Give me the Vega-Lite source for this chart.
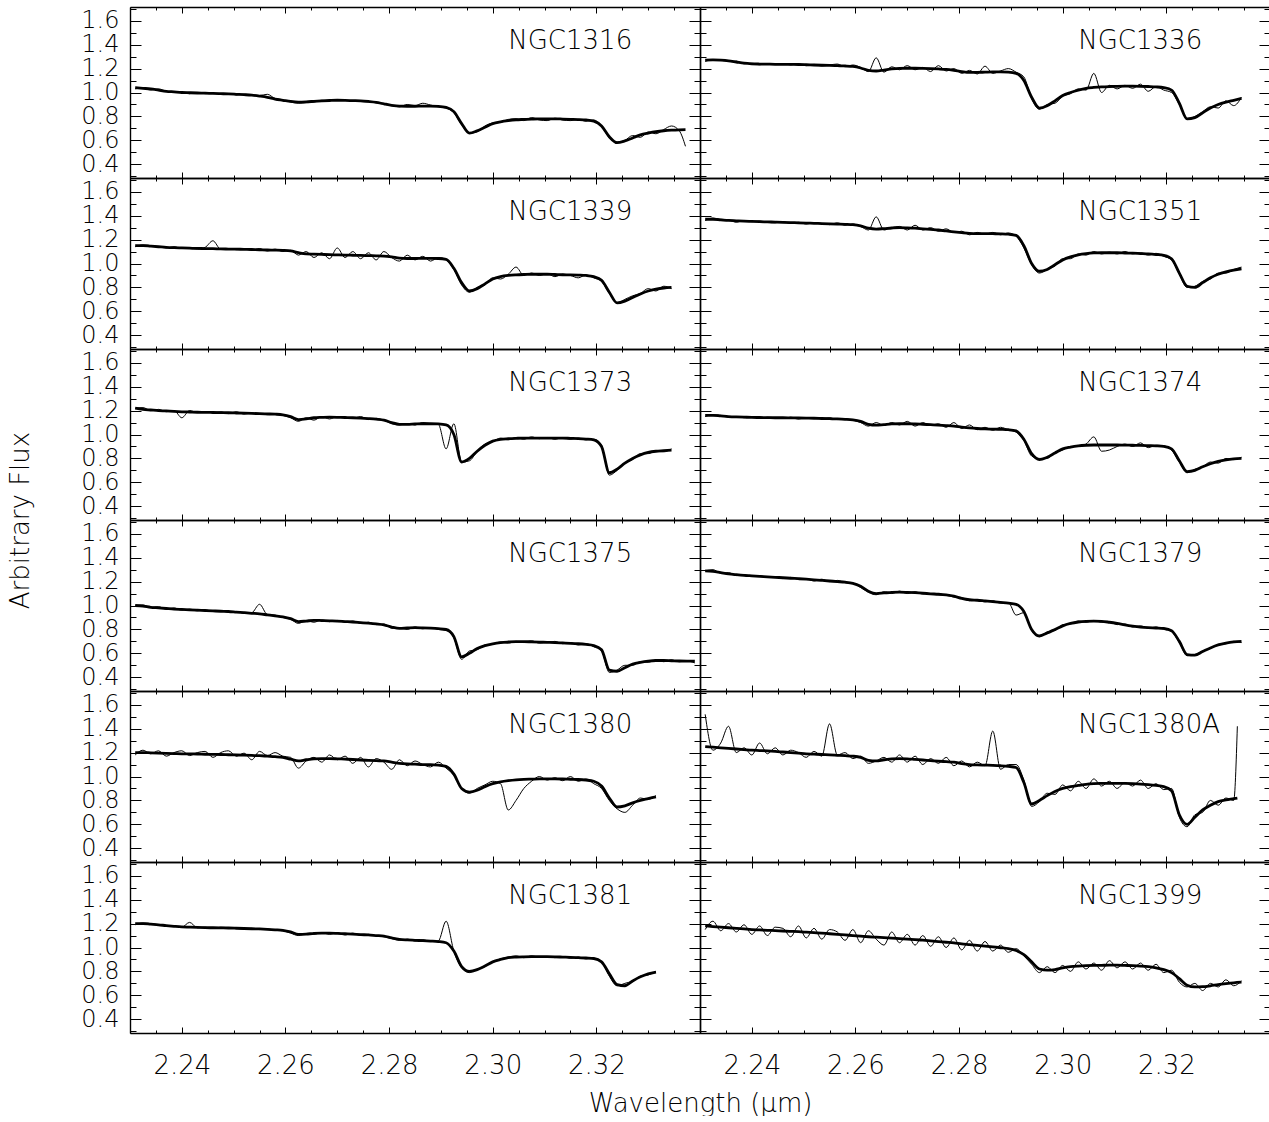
{
"$schema":"https://vega.github.io/schema/vega-lite/v6.json",
"background":"#ffffff",
"padding":{"left":7,"top":6,"right":0,"bottom":0},
"spacing":0,
"bounds":"flush",
"columns":2,
"config":{
 "view":{"stroke":null},
 "axis":{"domainColor":"#000","domainWidth":1.4,"tickColor":"#000","tickWidth":1,"grid":false,"labelFont":"DejaVu Sans","labelFontWeight":200,"labelFontSize":26,"labelColor":"#000","labelOverlap":false,"labelFlush":false,"titleFont":"DejaVu Sans","titleFontWeight":200,"titleFontSize":26,"titleColor":"#000"},
 "axisX":{"tickCount":22,"tickSize":{"condition":{"test":"abs(datum.value*50-round(datum.value*50))<0.01","value":-6},"value":-3},"labelExpr":"abs(datum.value*50-round(datum.value*50))<0.01 && datum.value<2.335 && datum.value>2.235 ? format(datum.value,'.2f') : ''","labelPadding":25},
 "axisY":{"tickCount":15,"tickSize":{"condition":{"test":"abs(datum.value*5-round(datum.value*5))<0.01","value":-11},"value":-6},"labelFontSize":{"condition":{"test":"abs(datum.value*5-round(datum.value*5))<0.01","value":24},"value":1},"labelExpr":"abs(datum.value*5-round(datum.value*5))<0.01 ? format(datum.value,'.1f') : ''","labelPadding":22}
},
"datasets":{
"n1316":[{"x":2.231,"m":1.04,"o":1.03},{"x":2.2325,"m":1.035,"o":1.04},{"x":2.234,"m":1.03,"o":1.02},{"x":2.2355,"m":1.02,"o":1.03},{"x":2.237,"m":1.01,"o":1.01},{"x":2.2385,"m":1.005,"o":1.0},{"x":2.24,"m":1.0,"o":1.0},{"x":2.2415,"m":0.998,"o":0.99},{"x":2.243,"m":0.996,"o":1.0},{"x":2.2445,"m":0.994,"o":0.99},{"x":2.246,"m":0.992,"o":0.995},{"x":2.2475,"m":0.99,"o":0.985},{"x":2.249,"m":0.988,"o":0.99},{"x":2.2505,"m":0.985,"o":0.98},{"x":2.252,"m":0.982,"o":0.985},{"x":2.2535,"m":0.978,"o":0.98},{"x":2.255,"m":0.97,"o":0.975},{"x":2.2565,"m":0.96,"o":0.985},{"x":2.258,"m":0.945,"o":0.95},{"x":2.2595,"m":0.935,"o":0.94},{"x":2.261,"m":0.925,"o":0.92},{"x":2.2625,"m":0.92,"o":0.91},{"x":2.264,"m":0.922,"o":0.915},{"x":2.2655,"m":0.926,"o":0.92},{"x":2.267,"m":0.93,"o":0.935},{"x":2.2685,"m":0.933,"o":0.93},{"x":2.27,"m":0.935,"o":0.94},{"x":2.2715,"m":0.934,"o":0.935},{"x":2.273,"m":0.932,"o":0.93},{"x":2.2745,"m":0.93,"o":0.925},{"x":2.276,"m":0.925,"o":0.92},{"x":2.2775,"m":0.918,"o":0.915},{"x":2.279,"m":0.905,"o":0.9},{"x":2.2805,"m":0.893,"o":0.89},{"x":2.282,"m":0.886,"o":0.88},{"x":2.2835,"m":0.885,"o":0.9},{"x":2.285,"m":0.885,"o":0.89},{"x":2.2865,"m":0.886,"o":0.91},{"x":2.288,"m":0.886,"o":0.895},{"x":2.2895,"m":0.884,"o":0.88},{"x":2.291,"m":0.875,"o":0.87},{"x":2.2925,"m":0.84,"o":0.83},{"x":2.294,"m":0.74,"o":0.73},{"x":2.2955,"m":0.66,"o":0.66},{"x":2.297,"m":0.68,"o":0.67},{"x":2.2985,"m":0.71,"o":0.72},{"x":2.3,"m":0.74,"o":0.745},{"x":2.3015,"m":0.755,"o":0.75},{"x":2.303,"m":0.765,"o":0.775},{"x":2.3045,"m":0.772,"o":0.78},{"x":2.306,"m":0.775,"o":0.765},{"x":2.3075,"m":0.778,"o":0.79},{"x":2.309,"m":0.78,"o":0.77},{"x":2.3105,"m":0.78,"o":0.765},{"x":2.312,"m":0.78,"o":0.785},{"x":2.3135,"m":0.778,"o":0.77},{"x":2.315,"m":0.776,"o":0.765},{"x":2.3165,"m":0.774,"o":0.775},{"x":2.318,"m":0.77,"o":0.76},{"x":2.3195,"m":0.76,"o":0.77},{"x":2.321,"m":0.72,"o":0.72},{"x":2.3225,"m":0.63,"o":0.62},{"x":2.324,"m":0.58,"o":0.585},{"x":2.3255,"m":0.595,"o":0.6},{"x":2.327,"m":0.62,"o":0.64},{"x":2.3285,"m":0.645,"o":0.625},{"x":2.33,"m":0.66,"o":0.67},{"x":2.3315,"m":0.672,"o":0.655},{"x":2.333,"m":0.68,"o":0.69},{"x":2.3345,"m":0.685,"o":0.72},{"x":2.336,"m":0.688,"o":0.68},{"x":2.3372,"m":0.689,"o":0.55}],
"n1336":[{"x":2.231,"m":1.27,"o":1.26},{"x":2.2325,"m":1.272,"o":1.275},{"x":2.234,"m":1.27,"o":1.27},{"x":2.2355,"m":1.265,"o":1.26},{"x":2.237,"m":1.255,"o":1.262},{"x":2.2385,"m":1.245,"o":1.24},{"x":2.24,"m":1.24,"o":1.245},{"x":2.2415,"m":1.238,"o":1.232},{"x":2.243,"m":1.237,"o":1.24},{"x":2.2445,"m":1.236,"o":1.235},{"x":2.246,"m":1.236,"o":1.242},{"x":2.2475,"m":1.235,"o":1.23},{"x":2.249,"m":1.234,"o":1.238},{"x":2.2505,"m":1.232,"o":1.225},{"x":2.252,"m":1.23,"o":1.235},{"x":2.2535,"m":1.228,"o":1.222},{"x":2.255,"m":1.226,"o":1.23},{"x":2.2565,"m":1.224,"o":1.238},{"x":2.258,"m":1.222,"o":1.215},{"x":2.2595,"m":1.218,"o":1.23},{"x":2.261,"m":1.205,"o":1.21},{"x":2.2625,"m":1.185,"o":1.175},{"x":2.264,"m":1.18,"o":1.29},{"x":2.2655,"m":1.188,"o":1.17},{"x":2.267,"m":1.197,"o":1.215},{"x":2.2685,"m":1.202,"o":1.19},{"x":2.27,"m":1.203,"o":1.225},{"x":2.2715,"m":1.203,"o":1.19},{"x":2.273,"m":1.202,"o":1.21},{"x":2.2745,"m":1.2,"o":1.175},{"x":2.276,"m":1.197,"o":1.225},{"x":2.2775,"m":1.193,"o":1.18},{"x":2.279,"m":1.185,"o":1.2},{"x":2.2805,"m":1.175,"o":1.16},{"x":2.282,"m":1.168,"o":1.185},{"x":2.2835,"m":1.168,"o":1.155},{"x":2.285,"m":1.17,"o":1.22},{"x":2.2865,"m":1.172,"o":1.16},{"x":2.288,"m":1.172,"o":1.18},{"x":2.2895,"m":1.17,"o":1.2},{"x":2.291,"m":1.16,"o":1.17},{"x":2.2925,"m":1.1,"o":1.13},{"x":2.294,"m":0.96,"o":0.95},{"x":2.2955,"m":0.87,"o":0.86},{"x":2.297,"m":0.89,"o":0.9},{"x":2.2985,"m":0.93,"o":0.91},{"x":2.3,"m":0.975,"o":0.97},{"x":2.3015,"m":1.0,"o":0.99},{"x":2.303,"m":1.02,"o":1.03},{"x":2.3045,"m":1.035,"o":1.02},{"x":2.306,"m":1.042,"o":1.16},{"x":2.3075,"m":1.047,"o":1.0},{"x":2.309,"m":1.05,"o":1.06},{"x":2.3105,"m":1.052,"o":1.03},{"x":2.312,"m":1.053,"o":1.06},{"x":2.3135,"m":1.053,"o":1.035},{"x":2.315,"m":1.052,"o":1.07},{"x":2.3165,"m":1.05,"o":1.01},{"x":2.318,"m":1.047,"o":1.05},{"x":2.3195,"m":1.04,"o":1.02},{"x":2.321,"m":1.02,"o":1.0},{"x":2.3225,"m":0.91,"o":0.9},{"x":2.324,"m":0.78,"o":0.78},{"x":2.3255,"m":0.79,"o":0.8},{"x":2.327,"m":0.83,"o":0.84},{"x":2.3285,"m":0.87,"o":0.88},{"x":2.33,"m":0.9,"o":0.87},{"x":2.3315,"m":0.92,"o":0.93},{"x":2.333,"m":0.935,"o":0.89},{"x":2.3345,"m":0.95,"o":0.96}],
"n1339":[{"x":2.231,"m":1.15,"o":1.14},{"x":2.2325,"m":1.15,"o":1.155},{"x":2.234,"m":1.145,"o":1.15},{"x":2.2355,"m":1.14,"o":1.14},{"x":2.237,"m":1.135,"o":1.13},{"x":2.2385,"m":1.132,"o":1.14},{"x":2.24,"m":1.13,"o":1.125},{"x":2.2415,"m":1.128,"o":1.13},{"x":2.243,"m":1.126,"o":1.12},{"x":2.2445,"m":1.125,"o":1.135},{"x":2.246,"m":1.124,"o":1.19},{"x":2.2475,"m":1.122,"o":1.12},{"x":2.249,"m":1.121,"o":1.125},{"x":2.2505,"m":1.12,"o":1.115},{"x":2.252,"m":1.118,"o":1.12},{"x":2.2535,"m":1.117,"o":1.11},{"x":2.255,"m":1.115,"o":1.125},{"x":2.2565,"m":1.113,"o":1.105},{"x":2.258,"m":1.112,"o":1.12},{"x":2.2595,"m":1.11,"o":1.1},{"x":2.261,"m":1.105,"o":1.11},{"x":2.2625,"m":1.09,"o":1.07},{"x":2.264,"m":1.08,"o":1.1},{"x":2.2655,"m":1.078,"o":1.05},{"x":2.267,"m":1.076,"o":1.09},{"x":2.2685,"m":1.074,"o":1.04},{"x":2.27,"m":1.072,"o":1.13},{"x":2.2715,"m":1.07,"o":1.05},{"x":2.273,"m":1.069,"o":1.1},{"x":2.2745,"m":1.068,"o":1.04},{"x":2.276,"m":1.066,"o":1.09},{"x":2.2775,"m":1.064,"o":1.03},{"x":2.279,"m":1.062,"o":1.1},{"x":2.2805,"m":1.055,"o":1.05},{"x":2.282,"m":1.045,"o":1.02},{"x":2.2835,"m":1.042,"o":1.07},{"x":2.285,"m":1.042,"o":1.03},{"x":2.2865,"m":1.043,"o":1.06},{"x":2.288,"m":1.043,"o":1.02},{"x":2.2895,"m":1.042,"o":1.05},{"x":2.291,"m":1.035,"o":1.03},{"x":2.2925,"m":0.96,"o":0.95},{"x":2.294,"m":0.84,"o":0.82},{"x":2.2955,"m":0.77,"o":0.76},{"x":2.297,"m":0.79,"o":0.8},{"x":2.2985,"m":0.83,"o":0.82},{"x":2.3,"m":0.87,"o":0.88},{"x":2.3015,"m":0.89,"o":0.87},{"x":2.303,"m":0.9,"o":0.91},{"x":2.3045,"m":0.905,"o":0.97},{"x":2.306,"m":0.908,"o":0.9},{"x":2.3075,"m":0.91,"o":0.92},{"x":2.309,"m":0.91,"o":0.9},{"x":2.3105,"m":0.91,"o":0.915},{"x":2.312,"m":0.908,"o":0.89},{"x":2.3135,"m":0.906,"o":0.91},{"x":2.315,"m":0.905,"o":0.9},{"x":2.3165,"m":0.903,"o":0.88},{"x":2.318,"m":0.9,"o":0.905},{"x":2.3195,"m":0.89,"o":0.88},{"x":2.321,"m":0.86,"o":0.85},{"x":2.3225,"m":0.76,"o":0.75},{"x":2.324,"m":0.67,"o":0.67},{"x":2.3255,"m":0.685,"o":0.7},{"x":2.327,"m":0.715,"o":0.73},{"x":2.3285,"m":0.745,"o":0.75},{"x":2.33,"m":0.77,"o":0.79},{"x":2.3315,"m":0.785,"o":0.77},{"x":2.333,"m":0.795,"o":0.81},{"x":2.3345,"m":0.8,"o":0.79}],
"n1351":[{"x":2.231,"m":1.37,"o":1.36},{"x":2.2325,"m":1.37,"o":1.38},{"x":2.234,"m":1.365,"o":1.37},{"x":2.2355,"m":1.36,"o":1.365},{"x":2.237,"m":1.357,"o":1.345},{"x":2.2385,"m":1.354,"o":1.36},{"x":2.24,"m":1.352,"o":1.35},{"x":2.2415,"m":1.35,"o":1.355},{"x":2.243,"m":1.348,"o":1.345},{"x":2.2445,"m":1.346,"o":1.34},{"x":2.246,"m":1.344,"o":1.35},{"x":2.2475,"m":1.342,"o":1.335},{"x":2.249,"m":1.34,"o":1.345},{"x":2.2505,"m":1.338,"o":1.33},{"x":2.252,"m":1.336,"o":1.34},{"x":2.2535,"m":1.334,"o":1.335},{"x":2.255,"m":1.332,"o":1.325},{"x":2.2565,"m":1.33,"o":1.34},{"x":2.258,"m":1.328,"o":1.32},{"x":2.2595,"m":1.325,"o":1.33},{"x":2.261,"m":1.315,"o":1.31},{"x":2.2625,"m":1.295,"o":1.28},{"x":2.264,"m":1.288,"o":1.39},{"x":2.2655,"m":1.292,"o":1.28},{"x":2.267,"m":1.297,"o":1.3},{"x":2.2685,"m":1.3,"o":1.31},{"x":2.27,"m":1.298,"o":1.28},{"x":2.2715,"m":1.295,"o":1.32},{"x":2.273,"m":1.29,"o":1.28},{"x":2.2745,"m":1.285,"o":1.3},{"x":2.276,"m":1.28,"o":1.27},{"x":2.2775,"m":1.272,"o":1.29},{"x":2.279,"m":1.265,"o":1.26},{"x":2.2805,"m":1.258,"o":1.27},{"x":2.282,"m":1.252,"o":1.24},{"x":2.2835,"m":1.25,"o":1.26},{"x":2.285,"m":1.25,"o":1.245},{"x":2.2865,"m":1.249,"o":1.26},{"x":2.288,"m":1.248,"o":1.24},{"x":2.2895,"m":1.245,"o":1.255},{"x":2.291,"m":1.235,"o":1.23},{"x":2.2925,"m":1.15,"o":1.13},{"x":2.294,"m":1.0,"o":0.99},{"x":2.2955,"m":0.935,"o":0.92},{"x":2.297,"m":0.95,"o":0.95},{"x":2.2985,"m":0.99,"o":0.98},{"x":2.3,"m":1.03,"o":1.04},{"x":2.3015,"m":1.055,"o":1.04},{"x":2.303,"m":1.072,"o":1.08},{"x":2.3045,"m":1.082,"o":1.07},{"x":2.306,"m":1.088,"o":1.1},{"x":2.3075,"m":1.09,"o":1.08},{"x":2.309,"m":1.09,"o":1.095},{"x":2.3105,"m":1.09,"o":1.08},{"x":2.312,"m":1.088,"o":1.1},{"x":2.3135,"m":1.086,"o":1.08},{"x":2.315,"m":1.083,"o":1.09},{"x":2.3165,"m":1.08,"o":1.07},{"x":2.318,"m":1.075,"o":1.085},{"x":2.3195,"m":1.068,"o":1.06},{"x":2.321,"m":1.04,"o":1.03},{"x":2.3225,"m":0.92,"o":0.91},{"x":2.324,"m":0.81,"o":0.8},{"x":2.3255,"m":0.8,"o":0.81},{"x":2.327,"m":0.84,"o":0.85},{"x":2.3285,"m":0.88,"o":0.87},{"x":2.33,"m":0.91,"o":0.92},{"x":2.3315,"m":0.93,"o":0.92},{"x":2.333,"m":0.945,"o":0.95},{"x":2.3345,"m":0.955,"o":0.97}],
"n1373":[{"x":2.231,"m":1.22,"o":1.22},{"x":2.2325,"m":1.21,"o":1.225},{"x":2.234,"m":1.205,"o":1.2},{"x":2.2355,"m":1.2,"o":1.21},{"x":2.237,"m":1.197,"o":1.19},{"x":2.2385,"m":1.193,"o":1.2},{"x":2.24,"m":1.19,"o":1.14},{"x":2.2415,"m":1.188,"o":1.2},{"x":2.243,"m":1.186,"o":1.185},{"x":2.2445,"m":1.185,"o":1.19},{"x":2.246,"m":1.184,"o":1.18},{"x":2.2475,"m":1.183,"o":1.19},{"x":2.249,"m":1.182,"o":1.175},{"x":2.2505,"m":1.18,"o":1.19},{"x":2.252,"m":1.178,"o":1.17},{"x":2.2535,"m":1.176,"o":1.18},{"x":2.255,"m":1.174,"o":1.175},{"x":2.2565,"m":1.172,"o":1.165},{"x":2.258,"m":1.17,"o":1.17},{"x":2.2595,"m":1.165,"o":1.16},{"x":2.261,"m":1.15,"o":1.14},{"x":2.2625,"m":1.125,"o":1.11},{"x":2.264,"m":1.13,"o":1.14},{"x":2.2655,"m":1.14,"o":1.12},{"x":2.267,"m":1.143,"o":1.15},{"x":2.2685,"m":1.145,"o":1.13},{"x":2.27,"m":1.144,"o":1.15},{"x":2.2715,"m":1.142,"o":1.14},{"x":2.273,"m":1.14,"o":1.135},{"x":2.2745,"m":1.137,"o":1.15},{"x":2.276,"m":1.133,"o":1.125},{"x":2.2775,"m":1.128,"o":1.135},{"x":2.279,"m":1.12,"o":1.12},{"x":2.2805,"m":1.1,"o":1.09},{"x":2.282,"m":1.085,"o":1.08},{"x":2.2835,"m":1.085,"o":1.09},{"x":2.285,"m":1.088,"o":1.08},{"x":2.2865,"m":1.09,"o":1.1},{"x":2.288,"m":1.09,"o":1.09},{"x":2.2895,"m":1.088,"o":1.085},{"x":2.291,"m":1.08,"o":0.88},{"x":2.2925,"m":1.0,"o":1.09},{"x":2.294,"m":0.77,"o":0.77},{"x":2.2955,"m":0.8,"o":0.78},{"x":2.297,"m":0.86,"o":0.86},{"x":2.2985,"m":0.91,"o":0.92},{"x":2.3,"m":0.945,"o":0.94},{"x":2.3015,"m":0.96,"o":0.97},{"x":2.303,"m":0.965,"o":0.955},{"x":2.3045,"m":0.968,"o":0.975},{"x":2.306,"m":0.97,"o":0.96},{"x":2.3075,"m":0.97,"o":0.98},{"x":2.309,"m":0.97,"o":0.965},{"x":2.3105,"m":0.97,"o":0.975},{"x":2.312,"m":0.97,"o":0.96},{"x":2.3135,"m":0.97,"o":0.975},{"x":2.315,"m":0.968,"o":0.96},{"x":2.3165,"m":0.966,"o":0.97},{"x":2.318,"m":0.962,"o":0.955},{"x":2.3195,"m":0.955,"o":0.96},{"x":2.321,"m":0.9,"o":0.91},{"x":2.3225,"m":0.68,"o":0.66},{"x":2.324,"m":0.71,"o":0.7},{"x":2.3255,"m":0.76,"o":0.76},{"x":2.327,"m":0.8,"o":0.79},{"x":2.3285,"m":0.83,"o":0.84},{"x":2.33,"m":0.85,"o":0.84},{"x":2.3315,"m":0.86,"o":0.86},{"x":2.333,"m":0.865,"o":0.855},{"x":2.3345,"m":0.87,"o":0.88}],
"n1374":[{"x":2.231,"m":1.16,"o":1.15},{"x":2.2325,"m":1.16,"o":1.165},{"x":2.234,"m":1.155,"o":1.16},{"x":2.2355,"m":1.15,"o":1.145},{"x":2.237,"m":1.147,"o":1.15},{"x":2.2385,"m":1.145,"o":1.14},{"x":2.24,"m":1.143,"o":1.15},{"x":2.2415,"m":1.142,"o":1.135},{"x":2.243,"m":1.141,"o":1.145},{"x":2.2445,"m":1.14,"o":1.14},{"x":2.246,"m":1.14,"o":1.135},{"x":2.2475,"m":1.139,"o":1.145},{"x":2.249,"m":1.138,"o":1.13},{"x":2.2505,"m":1.137,"o":1.14},{"x":2.252,"m":1.136,"o":1.135},{"x":2.2535,"m":1.134,"o":1.13},{"x":2.255,"m":1.132,"o":1.14},{"x":2.2565,"m":1.13,"o":1.125},{"x":2.258,"m":1.127,"o":1.13},{"x":2.2595,"m":1.122,"o":1.12},{"x":2.261,"m":1.11,"o":1.1},{"x":2.2625,"m":1.085,"o":1.07},{"x":2.264,"m":1.078,"o":1.1},{"x":2.2655,"m":1.083,"o":1.075},{"x":2.267,"m":1.088,"o":1.1},{"x":2.2685,"m":1.09,"o":1.08},{"x":2.27,"m":1.09,"o":1.11},{"x":2.2715,"m":1.088,"o":1.07},{"x":2.273,"m":1.085,"o":1.1},{"x":2.2745,"m":1.082,"o":1.075},{"x":2.276,"m":1.079,"o":1.09},{"x":2.2775,"m":1.075,"o":1.06},{"x":2.279,"m":1.07,"o":1.1},{"x":2.2805,"m":1.062,"o":1.05},{"x":2.282,"m":1.055,"o":1.08},{"x":2.2835,"m":1.05,"o":1.04},{"x":2.285,"m":1.047,"o":1.06},{"x":2.2865,"m":1.045,"o":1.035},{"x":2.288,"m":1.043,"o":1.06},{"x":2.2895,"m":1.04,"o":1.04},{"x":2.291,"m":1.03,"o":1.02},{"x":2.2925,"m":0.96,"o":0.95},{"x":2.294,"m":0.84,"o":0.82},{"x":2.2955,"m":0.79,"o":0.8},{"x":2.297,"m":0.81,"o":0.8},{"x":2.2985,"m":0.845,"o":0.85},{"x":2.3,"m":0.88,"o":0.87},{"x":2.3015,"m":0.895,"o":0.9},{"x":2.303,"m":0.905,"o":0.9},{"x":2.3045,"m":0.91,"o":0.92},{"x":2.306,"m":0.912,"o":0.98},{"x":2.3075,"m":0.912,"o":0.86},{"x":2.309,"m":0.912,"o":0.87},{"x":2.3105,"m":0.912,"o":0.9},{"x":2.312,"m":0.911,"o":0.92},{"x":2.3135,"m":0.91,"o":0.9},{"x":2.315,"m":0.909,"o":0.93},{"x":2.3165,"m":0.907,"o":0.89},{"x":2.318,"m":0.905,"o":0.91},{"x":2.3195,"m":0.9,"o":0.905},{"x":2.321,"m":0.88,"o":0.87},{"x":2.3225,"m":0.78,"o":0.77},{"x":2.324,"m":0.69,"o":0.68},{"x":2.3255,"m":0.7,"o":0.71},{"x":2.327,"m":0.73,"o":0.73},{"x":2.3285,"m":0.755,"o":0.77},{"x":2.33,"m":0.775,"o":0.76},{"x":2.3315,"m":0.788,"o":0.8},{"x":2.333,"m":0.796,"o":0.79},{"x":2.3345,"m":0.8,"o":0.81}],
"n1375":[{"x":2.231,"m":1.0,"o":0.995},{"x":2.2325,"m":0.995,"o":1.005},{"x":2.234,"m":0.985,"o":0.985},{"x":2.2355,"m":0.98,"o":0.99},{"x":2.237,"m":0.975,"o":0.97},{"x":2.2385,"m":0.97,"o":0.98},{"x":2.24,"m":0.967,"o":0.96},{"x":2.2415,"m":0.964,"o":0.97},{"x":2.243,"m":0.961,"o":0.955},{"x":2.2445,"m":0.958,"o":0.965},{"x":2.246,"m":0.955,"o":0.95},{"x":2.2475,"m":0.952,"o":0.955},{"x":2.249,"m":0.95,"o":0.945},{"x":2.2505,"m":0.945,"o":0.95},{"x":2.252,"m":0.94,"o":0.935},{"x":2.2535,"m":0.935,"o":0.94},{"x":2.255,"m":0.93,"o":1.01},{"x":2.2565,"m":0.922,"o":0.925},{"x":2.258,"m":0.914,"o":0.92},{"x":2.2595,"m":0.905,"o":0.9},{"x":2.261,"m":0.89,"o":0.885},{"x":2.2625,"m":0.865,"o":0.85},{"x":2.264,"m":0.87,"o":0.875},{"x":2.2655,"m":0.876,"o":0.86},{"x":2.267,"m":0.874,"o":0.88},{"x":2.2685,"m":0.872,"o":0.865},{"x":2.27,"m":0.87,"o":0.875},{"x":2.2715,"m":0.866,"o":0.86},{"x":2.273,"m":0.862,"o":0.87},{"x":2.2745,"m":0.857,"o":0.85},{"x":2.276,"m":0.852,"o":0.86},{"x":2.2775,"m":0.846,"o":0.84},{"x":2.279,"m":0.838,"o":0.845},{"x":2.2805,"m":0.82,"o":0.81},{"x":2.282,"m":0.808,"o":0.81},{"x":2.2835,"m":0.812,"o":0.8},{"x":2.285,"m":0.815,"o":0.82},{"x":2.2865,"m":0.813,"o":0.805},{"x":2.288,"m":0.81,"o":0.815},{"x":2.2895,"m":0.806,"o":0.8},{"x":2.291,"m":0.8,"o":0.79},{"x":2.2925,"m":0.74,"o":0.73},{"x":2.294,"m":0.57,"o":0.55},{"x":2.2955,"m":0.6,"o":0.62},{"x":2.297,"m":0.64,"o":0.63},{"x":2.2985,"m":0.665,"o":0.67},{"x":2.3,"m":0.68,"o":0.675},{"x":2.3015,"m":0.69,"o":0.695},{"x":2.303,"m":0.695,"o":0.685},{"x":2.3045,"m":0.698,"o":0.7},{"x":2.306,"m":0.698,"o":0.69},{"x":2.3075,"m":0.696,"o":0.705},{"x":2.309,"m":0.694,"o":0.685},{"x":2.3105,"m":0.692,"o":0.69},{"x":2.312,"m":0.69,"o":0.7},{"x":2.3135,"m":0.687,"o":0.68},{"x":2.315,"m":0.684,"o":0.69},{"x":2.3165,"m":0.68,"o":0.67},{"x":2.318,"m":0.674,"o":0.68},{"x":2.3195,"m":0.665,"o":0.655},{"x":2.321,"m":0.63,"o":0.62},{"x":2.3225,"m":0.46,"o":0.44},{"x":2.324,"m":0.45,"o":0.46},{"x":2.3255,"m":0.48,"o":0.5},{"x":2.327,"m":0.51,"o":0.5},{"x":2.3285,"m":0.525,"o":0.53},{"x":2.33,"m":0.535,"o":0.525},{"x":2.3315,"m":0.54,"o":0.545},{"x":2.333,"m":0.54,"o":0.53},{"x":2.3345,"m":0.538,"o":0.545},{"x":2.336,"m":0.536,"o":0.53},{"x":2.3375,"m":0.535,"o":0.535},{"x":2.339,"m":0.534,"o":0.52}],
"n1379":[{"x":2.231,"m":1.29,"o":1.29},{"x":2.2325,"m":1.285,"o":1.3},{"x":2.234,"m":1.275,"o":1.27},{"x":2.2355,"m":1.265,"o":1.275},{"x":2.237,"m":1.258,"o":1.25},{"x":2.2385,"m":1.252,"o":1.26},{"x":2.24,"m":1.248,"o":1.245},{"x":2.2415,"m":1.244,"o":1.25},{"x":2.243,"m":1.24,"o":1.235},{"x":2.2445,"m":1.236,"o":1.24},{"x":2.246,"m":1.232,"o":1.225},{"x":2.2475,"m":1.228,"o":1.235},{"x":2.249,"m":1.224,"o":1.22},{"x":2.2505,"m":1.22,"o":1.225},{"x":2.252,"m":1.215,"o":1.205},{"x":2.2535,"m":1.21,"o":1.22},{"x":2.255,"m":1.205,"o":1.2},{"x":2.2565,"m":1.2,"o":1.21},{"x":2.258,"m":1.195,"o":1.19},{"x":2.2595,"m":1.185,"o":1.185},{"x":2.261,"m":1.16,"o":1.15},{"x":2.2625,"m":1.12,"o":1.11},{"x":2.264,"m":1.1,"o":1.09},{"x":2.2655,"m":1.105,"o":1.115},{"x":2.267,"m":1.11,"o":1.1},{"x":2.2685,"m":1.112,"o":1.12},{"x":2.27,"m":1.11,"o":1.1},{"x":2.2715,"m":1.107,"o":1.115},{"x":2.273,"m":1.103,"o":1.095},{"x":2.2745,"m":1.098,"o":1.1},{"x":2.276,"m":1.094,"o":1.09},{"x":2.2775,"m":1.088,"o":1.085},{"x":2.279,"m":1.078,"o":1.07},{"x":2.2805,"m":1.06,"o":1.065},{"x":2.282,"m":1.048,"o":1.04},{"x":2.2835,"m":1.044,"o":1.05},{"x":2.285,"m":1.038,"o":1.03},{"x":2.2865,"m":1.032,"o":1.04},{"x":2.288,"m":1.026,"o":1.02},{"x":2.2895,"m":1.02,"o":1.025},{"x":2.291,"m":1.01,"o":0.92},{"x":2.2925,"m":0.95,"o":0.94},{"x":2.294,"m":0.8,"o":0.79},{"x":2.2955,"m":0.745,"o":0.74},{"x":2.297,"m":0.77,"o":0.78},{"x":2.2985,"m":0.8,"o":0.79},{"x":2.3,"m":0.83,"o":0.84},{"x":2.3015,"m":0.85,"o":0.845},{"x":2.303,"m":0.862,"o":0.87},{"x":2.3045,"m":0.868,"o":0.86},{"x":2.306,"m":0.87,"o":0.875},{"x":2.3075,"m":0.868,"o":0.86},{"x":2.309,"m":0.86,"o":0.865},{"x":2.3105,"m":0.85,"o":0.84},{"x":2.312,"m":0.838,"o":0.845},{"x":2.3135,"m":0.828,"o":0.82},{"x":2.315,"m":0.82,"o":0.83},{"x":2.3165,"m":0.815,"o":0.81},{"x":2.318,"m":0.812,"o":0.82},{"x":2.3195,"m":0.808,"o":0.8},{"x":2.321,"m":0.79,"o":0.78},{"x":2.3225,"m":0.7,"o":0.69},{"x":2.324,"m":0.59,"o":0.58},{"x":2.3255,"m":0.585,"o":0.59},{"x":2.327,"m":0.615,"o":0.62},{"x":2.3285,"m":0.645,"o":0.64},{"x":2.33,"m":0.67,"o":0.675},{"x":2.3315,"m":0.685,"o":0.68},{"x":2.333,"m":0.695,"o":0.7},{"x":2.3345,"m":0.7,"o":0.69}],
"n1380":[{"x":2.231,"m":1.2,"o":1.18},{"x":2.2325,"m":1.2,"o":1.22},{"x":2.234,"m":1.198,"o":1.19},{"x":2.2355,"m":1.196,"o":1.215},{"x":2.237,"m":1.194,"o":1.17},{"x":2.2385,"m":1.192,"o":1.2},{"x":2.24,"m":1.19,"o":1.215},{"x":2.2415,"m":1.189,"o":1.175},{"x":2.243,"m":1.188,"o":1.2},{"x":2.2445,"m":1.186,"o":1.21},{"x":2.246,"m":1.185,"o":1.16},{"x":2.2475,"m":1.184,"o":1.2},{"x":2.249,"m":1.182,"o":1.215},{"x":2.2505,"m":1.18,"o":1.17},{"x":2.252,"m":1.178,"o":1.195},{"x":2.2535,"m":1.176,"o":1.14},{"x":2.255,"m":1.174,"o":1.21},{"x":2.2565,"m":1.17,"o":1.175},{"x":2.258,"m":1.166,"o":1.2},{"x":2.2595,"m":1.16,"o":1.17},{"x":2.261,"m":1.145,"o":1.16},{"x":2.2625,"m":1.13,"o":1.07},{"x":2.264,"m":1.14,"o":1.13},{"x":2.2655,"m":1.148,"o":1.16},{"x":2.267,"m":1.15,"o":1.12},{"x":2.2685,"m":1.15,"o":1.18},{"x":2.27,"m":1.148,"o":1.14},{"x":2.2715,"m":1.145,"o":1.17},{"x":2.273,"m":1.142,"o":1.11},{"x":2.2745,"m":1.138,"o":1.16},{"x":2.276,"m":1.135,"o":1.08},{"x":2.2775,"m":1.132,"o":1.15},{"x":2.279,"m":1.13,"o":1.12},{"x":2.2805,"m":1.12,"o":1.06},{"x":2.282,"m":1.11,"o":1.14},{"x":2.2835,"m":1.105,"o":1.09},{"x":2.285,"m":1.103,"o":1.13},{"x":2.2865,"m":1.1,"o":1.1},{"x":2.288,"m":1.1,"o":1.08},{"x":2.2895,"m":1.095,"o":1.12},{"x":2.291,"m":1.085,"o":1.07},{"x":2.2925,"m":1.02,"o":1.01},{"x":2.294,"m":0.9,"o":0.9},{"x":2.2955,"m":0.87,"o":0.86},{"x":2.297,"m":0.885,"o":0.9},{"x":2.2985,"m":0.915,"o":0.93},{"x":2.3,"m":0.94,"o":0.96},{"x":2.3015,"m":0.955,"o":0.94},{"x":2.303,"m":0.965,"o":0.72},{"x":2.3045,"m":0.972,"o":0.8},{"x":2.306,"m":0.976,"o":0.9},{"x":2.3075,"m":0.978,"o":0.96},{"x":2.309,"m":0.98,"o":1.0},{"x":2.3105,"m":0.98,"o":0.97},{"x":2.312,"m":0.98,"o":0.99},{"x":2.3135,"m":0.979,"o":0.965},{"x":2.315,"m":0.977,"o":1.0},{"x":2.3165,"m":0.975,"o":0.96},{"x":2.318,"m":0.97,"o":0.98},{"x":2.3195,"m":0.96,"o":0.94},{"x":2.321,"m":0.92,"o":0.9},{"x":2.3225,"m":0.82,"o":0.8},{"x":2.324,"m":0.745,"o":0.73},{"x":2.3255,"m":0.755,"o":0.7},{"x":2.327,"m":0.78,"o":0.76},{"x":2.3285,"m":0.8,"o":0.82},{"x":2.33,"m":0.815,"o":0.81},{"x":2.3315,"m":0.83,"o":0.84}],
"n1380a":[{"x":2.231,"m":1.25,"o":1.52},{"x":2.2325,"m":1.245,"o":1.22},{"x":2.234,"m":1.24,"o":1.28},{"x":2.2355,"m":1.235,"o":1.42},{"x":2.237,"m":1.23,"o":1.2},{"x":2.2385,"m":1.225,"o":1.24},{"x":2.24,"m":1.22,"o":1.18},{"x":2.2415,"m":1.217,"o":1.28},{"x":2.243,"m":1.214,"o":1.19},{"x":2.2445,"m":1.21,"o":1.24},{"x":2.246,"m":1.205,"o":1.18},{"x":2.2475,"m":1.2,"o":1.22},{"x":2.249,"m":1.195,"o":1.2},{"x":2.2505,"m":1.19,"o":1.16},{"x":2.252,"m":1.187,"o":1.21},{"x":2.2535,"m":1.184,"o":1.17},{"x":2.255,"m":1.18,"o":1.44},{"x":2.2565,"m":1.177,"o":1.18},{"x":2.258,"m":1.174,"o":1.2},{"x":2.2595,"m":1.17,"o":1.15},{"x":2.261,"m":1.16,"o":1.17},{"x":2.2625,"m":1.135,"o":1.11},{"x":2.264,"m":1.13,"o":1.13},{"x":2.2655,"m":1.14,"o":1.16},{"x":2.267,"m":1.148,"o":1.12},{"x":2.2685,"m":1.15,"o":1.18},{"x":2.27,"m":1.148,"o":1.12},{"x":2.2715,"m":1.143,"o":1.17},{"x":2.273,"m":1.138,"o":1.1},{"x":2.2745,"m":1.133,"o":1.15},{"x":2.276,"m":1.128,"o":1.11},{"x":2.2775,"m":1.124,"o":1.16},{"x":2.279,"m":1.12,"o":1.09},{"x":2.2805,"m":1.108,"o":1.13},{"x":2.282,"m":1.1,"o":1.08},{"x":2.2835,"m":1.097,"o":1.12},{"x":2.285,"m":1.095,"o":1.09},{"x":2.2865,"m":1.093,"o":1.38},{"x":2.288,"m":1.09,"o":1.06},{"x":2.2895,"m":1.085,"o":1.1},{"x":2.291,"m":1.075,"o":1.1},{"x":2.2925,"m":0.95,"o":0.97},{"x":2.294,"m":0.77,"o":0.75},{"x":2.2955,"m":0.8,"o":0.79},{"x":2.297,"m":0.84,"o":0.86},{"x":2.2985,"m":0.875,"o":0.85},{"x":2.3,"m":0.9,"o":0.93},{"x":2.3015,"m":0.915,"o":0.88},{"x":2.303,"m":0.925,"o":0.96},{"x":2.3045,"m":0.935,"o":0.9},{"x":2.306,"m":0.94,"o":0.98},{"x":2.3075,"m":0.942,"o":0.92},{"x":2.309,"m":0.943,"o":0.96},{"x":2.3105,"m":0.943,"o":0.9},{"x":2.312,"m":0.942,"o":0.95},{"x":2.3135,"m":0.94,"o":0.92},{"x":2.315,"m":0.937,"o":0.97},{"x":2.3165,"m":0.932,"o":0.9},{"x":2.318,"m":0.925,"o":0.94},{"x":2.3195,"m":0.915,"o":0.89},{"x":2.321,"m":0.88,"o":0.9},{"x":2.3225,"m":0.68,"o":0.66},{"x":2.324,"m":0.6,"o":0.58},{"x":2.3255,"m":0.66,"o":0.68},{"x":2.327,"m":0.72,"o":0.7},{"x":2.3285,"m":0.76,"o":0.8},{"x":2.33,"m":0.79,"o":0.76},{"x":2.3315,"m":0.805,"o":0.82},{"x":2.333,"m":0.815,"o":0.8},{"x":2.3337,"m":0.82,"o":1.42}],
"n1381":[{"x":2.231,"m":1.2,"o":1.19},{"x":2.2325,"m":1.2,"o":1.205},{"x":2.234,"m":1.195,"o":1.2},{"x":2.2355,"m":1.19,"o":1.19},{"x":2.237,"m":1.183,"o":1.18},{"x":2.2385,"m":1.177,"o":1.18},{"x":2.24,"m":1.172,"o":1.17},{"x":2.2415,"m":1.17,"o":1.21},{"x":2.243,"m":1.168,"o":1.165},{"x":2.2445,"m":1.166,"o":1.17},{"x":2.246,"m":1.165,"o":1.16},{"x":2.2475,"m":1.164,"o":1.17},{"x":2.249,"m":1.163,"o":1.165},{"x":2.2505,"m":1.161,"o":1.16},{"x":2.252,"m":1.159,"o":1.155},{"x":2.2535,"m":1.157,"o":1.16},{"x":2.255,"m":1.155,"o":1.15},{"x":2.2565,"m":1.152,"o":1.155},{"x":2.258,"m":1.148,"o":1.145},{"x":2.2595,"m":1.143,"o":1.14},{"x":2.261,"m":1.13,"o":1.12},{"x":2.2625,"m":1.11,"o":1.1},{"x":2.264,"m":1.112,"o":1.115},{"x":2.2655,"m":1.118,"o":1.11},{"x":2.267,"m":1.12,"o":1.125},{"x":2.2685,"m":1.12,"o":1.11},{"x":2.27,"m":1.118,"o":1.125},{"x":2.2715,"m":1.115,"o":1.105},{"x":2.273,"m":1.112,"o":1.12},{"x":2.2745,"m":1.108,"o":1.1},{"x":2.276,"m":1.105,"o":1.11},{"x":2.2775,"m":1.1,"o":1.1},{"x":2.279,"m":1.095,"o":1.09},{"x":2.2805,"m":1.08,"o":1.075},{"x":2.282,"m":1.068,"o":1.06},{"x":2.2835,"m":1.063,"o":1.07},{"x":2.285,"m":1.06,"o":1.055},{"x":2.2865,"m":1.057,"o":1.065},{"x":2.288,"m":1.054,"o":1.05},{"x":2.2895,"m":1.05,"o":1.055},{"x":2.291,"m":1.04,"o":1.22},{"x":2.2925,"m":0.97,"o":0.97},{"x":2.294,"m":0.84,"o":0.83},{"x":2.2955,"m":0.8,"o":0.79},{"x":2.297,"m":0.815,"o":0.82},{"x":2.2985,"m":0.845,"o":0.84},{"x":2.3,"m":0.88,"o":0.88},{"x":2.3015,"m":0.9,"o":0.905},{"x":2.303,"m":0.915,"o":0.92},{"x":2.3045,"m":0.92,"o":0.93},{"x":2.306,"m":0.922,"o":0.915},{"x":2.3075,"m":0.923,"o":0.93},{"x":2.309,"m":0.923,"o":0.92},{"x":2.3105,"m":0.923,"o":0.925},{"x":2.312,"m":0.922,"o":0.915},{"x":2.3135,"m":0.92,"o":0.925},{"x":2.315,"m":0.918,"o":0.91},{"x":2.3165,"m":0.915,"o":0.92},{"x":2.318,"m":0.912,"o":0.905},{"x":2.3195,"m":0.908,"o":0.91},{"x":2.321,"m":0.88,"o":0.88},{"x":2.3225,"m":0.78,"o":0.76},{"x":2.324,"m":0.69,"o":0.68},{"x":2.3255,"m":0.68,"o":0.7},{"x":2.327,"m":0.72,"o":0.72},{"x":2.3285,"m":0.755,"o":0.76},{"x":2.33,"m":0.78,"o":0.77},{"x":2.3315,"m":0.795,"o":0.8}],
"n1399":[{"x":2.231,"m":1.18,"o":1.15},{"x":2.2325,"m":1.175,"o":1.22},{"x":2.234,"m":1.17,"o":1.14},{"x":2.2355,"m":1.165,"o":1.2},{"x":2.237,"m":1.16,"o":1.13},{"x":2.2385,"m":1.155,"o":1.19},{"x":2.24,"m":1.15,"o":1.11},{"x":2.2415,"m":1.147,"o":1.18},{"x":2.243,"m":1.144,"o":1.1},{"x":2.2445,"m":1.141,"o":1.17},{"x":2.246,"m":1.138,"o":1.16},{"x":2.2475,"m":1.135,"o":1.09},{"x":2.249,"m":1.132,"o":1.18},{"x":2.2505,"m":1.128,"o":1.08},{"x":2.252,"m":1.124,"o":1.16},{"x":2.2535,"m":1.12,"o":1.07},{"x":2.255,"m":1.115,"o":1.15},{"x":2.2565,"m":1.11,"o":1.13},{"x":2.258,"m":1.105,"o":1.06},{"x":2.2595,"m":1.1,"o":1.15},{"x":2.261,"m":1.095,"o":1.04},{"x":2.2625,"m":1.09,"o":1.14},{"x":2.264,"m":1.086,"o":1.07},{"x":2.2655,"m":1.082,"o":1.02},{"x":2.267,"m":1.078,"o":1.13},{"x":2.2685,"m":1.074,"o":1.04},{"x":2.27,"m":1.07,"o":1.11},{"x":2.2715,"m":1.066,"o":1.02},{"x":2.273,"m":1.061,"o":1.1},{"x":2.2745,"m":1.056,"o":1.01},{"x":2.276,"m":1.05,"o":1.09},{"x":2.2775,"m":1.044,"o":1.0},{"x":2.279,"m":1.038,"o":1.08},{"x":2.2805,"m":1.03,"o":0.98},{"x":2.282,"m":1.024,"o":1.06},{"x":2.2835,"m":1.018,"o":0.97},{"x":2.285,"m":1.012,"o":1.05},{"x":2.2865,"m":1.005,"o":0.97},{"x":2.288,"m":0.998,"o":1.02},{"x":2.2895,"m":0.99,"o":0.96},{"x":2.291,"m":0.975,"o":0.99},{"x":2.2925,"m":0.94,"o":0.93},{"x":2.294,"m":0.88,"o":0.86},{"x":2.2955,"m":0.82,"o":0.79},{"x":2.297,"m":0.81,"o":0.84},{"x":2.2985,"m":0.815,"o":0.79},{"x":2.3,"m":0.83,"o":0.85},{"x":2.3015,"m":0.84,"o":0.8},{"x":2.303,"m":0.845,"o":0.88},{"x":2.3045,"m":0.848,"o":0.82},{"x":2.306,"m":0.85,"o":0.87},{"x":2.3075,"m":0.851,"o":0.81},{"x":2.309,"m":0.852,"o":0.89},{"x":2.3105,"m":0.852,"o":0.83},{"x":2.312,"m":0.85,"o":0.88},{"x":2.3135,"m":0.848,"o":0.82},{"x":2.315,"m":0.845,"o":0.87},{"x":2.3165,"m":0.84,"o":0.81},{"x":2.318,"m":0.83,"o":0.86},{"x":2.3195,"m":0.815,"o":0.79},{"x":2.321,"m":0.79,"o":0.81},{"x":2.3225,"m":0.74,"o":0.71},{"x":2.324,"m":0.685,"o":0.67},{"x":2.3255,"m":0.67,"o":0.7},{"x":2.327,"m":0.672,"o":0.64},{"x":2.3285,"m":0.68,"o":0.7},{"x":2.33,"m":0.69,"o":0.67},{"x":2.3315,"m":0.698,"o":0.73},{"x":2.333,"m":0.705,"o":0.68},{"x":2.3345,"m":0.71,"o":0.72}]
},
"concat":[
{"width":570,"height":171,"data":{"name":"n1316"},"resolve":{"axis":{"x":"independent","y":"independent"}},"layer":[
{"mark":{"type":"line","color":"#000","strokeWidth":1,"interpolate":"monotone","clip":true},"encoding":{"x":{"field":"x","type":"quantitative","scale":{"domain":[2.23,2.34],"nice":false,"zero":false},"axis":{"orient":"bottom","title":null,"labels":false}},"y":{"field":"o","type":"quantitative","scale":{"domain":[0.285,1.715],"nice":false,"zero":false},"axis":{"orient":"left","title":null}}}},
{"mark":{"type":"line","color":"#000","strokeWidth":2.8,"interpolate":"monotone","clip":true},"encoding":{"x":{"field":"x","type":"quantitative","scale":{"domain":[2.23,2.34],"nice":false,"zero":false},"axis":{"orient":"top","title":null,"labels":false}},"y":{"field":"m","type":"quantitative","scale":{"domain":[0.285,1.715],"nice":false,"zero":false},"axis":{"orient":"right","title":null,"labels":false}}}},
{"data":{"values":[{"name":"NGC1316"}]},"mark":{"type":"text","align":"left","baseline":"alphabetic","font":"DejaVu Sans","fontWeight":200,"fontSize":26,"color":"#000"},"encoding":{"x":{"datum":2.303,"type":"quantitative","scale":{"domain":[2.23,2.34],"nice":false,"zero":false},"axis":null},"y":{"datum":1.36,"type":"quantitative","scale":{"domain":[0.285,1.715],"nice":false,"zero":false},"axis":null},"text":{"field":"name"}}}]},
{"width":570,"height":171,"data":{"name":"n1336"},"resolve":{"axis":{"x":"independent","y":"independent"}},"layer":[
{"mark":{"type":"line","color":"#000","strokeWidth":1,"interpolate":"monotone","clip":true},"encoding":{"x":{"field":"x","type":"quantitative","scale":{"domain":[2.23,2.34],"nice":false,"zero":false},"axis":{"orient":"bottom","title":null,"labels":false}},"y":{"field":"o","type":"quantitative","scale":{"domain":[0.285,1.715],"nice":false,"zero":false},"axis":{"orient":"left","title":null,"labels":false}}}},
{"mark":{"type":"line","color":"#000","strokeWidth":2.8,"interpolate":"monotone","clip":true},"encoding":{"x":{"field":"x","type":"quantitative","scale":{"domain":[2.23,2.34],"nice":false,"zero":false},"axis":{"orient":"top","title":null,"labels":false}},"y":{"field":"m","type":"quantitative","scale":{"domain":[0.285,1.715],"nice":false,"zero":false},"axis":{"orient":"right","title":null,"labels":false}}}},
{"data":{"values":[{"name":"NGC1336"}]},"mark":{"type":"text","align":"left","baseline":"alphabetic","font":"DejaVu Sans","fontWeight":200,"fontSize":26,"color":"#000"},"encoding":{"x":{"datum":2.303,"type":"quantitative","scale":{"domain":[2.23,2.34],"nice":false,"zero":false},"axis":null},"y":{"datum":1.36,"type":"quantitative","scale":{"domain":[0.285,1.715],"nice":false,"zero":false},"axis":null},"text":{"field":"name"}}}]},
{"width":570,"height":171,"data":{"name":"n1339"},"resolve":{"axis":{"x":"independent","y":"independent"}},"layer":[
{"mark":{"type":"line","color":"#000","strokeWidth":1,"interpolate":"monotone","clip":true},"encoding":{"x":{"field":"x","type":"quantitative","scale":{"domain":[2.23,2.34],"nice":false,"zero":false},"axis":{"orient":"bottom","title":null,"labels":false}},"y":{"field":"o","type":"quantitative","scale":{"domain":[0.285,1.715],"nice":false,"zero":false},"axis":{"orient":"left","title":null}}}},
{"mark":{"type":"line","color":"#000","strokeWidth":2.8,"interpolate":"monotone","clip":true},"encoding":{"x":{"field":"x","type":"quantitative","scale":{"domain":[2.23,2.34],"nice":false,"zero":false},"axis":{"orient":"top","title":null,"labels":false}},"y":{"field":"m","type":"quantitative","scale":{"domain":[0.285,1.715],"nice":false,"zero":false},"axis":{"orient":"right","title":null,"labels":false}}}},
{"data":{"values":[{"name":"NGC1339"}]},"mark":{"type":"text","align":"left","baseline":"alphabetic","font":"DejaVu Sans","fontWeight":200,"fontSize":26,"color":"#000"},"encoding":{"x":{"datum":2.303,"type":"quantitative","scale":{"domain":[2.23,2.34],"nice":false,"zero":false},"axis":null},"y":{"datum":1.36,"type":"quantitative","scale":{"domain":[0.285,1.715],"nice":false,"zero":false},"axis":null},"text":{"field":"name"}}}]},
{"width":570,"height":171,"data":{"name":"n1351"},"resolve":{"axis":{"x":"independent","y":"independent"}},"layer":[
{"mark":{"type":"line","color":"#000","strokeWidth":1,"interpolate":"monotone","clip":true},"encoding":{"x":{"field":"x","type":"quantitative","scale":{"domain":[2.23,2.34],"nice":false,"zero":false},"axis":{"orient":"bottom","title":null,"labels":false}},"y":{"field":"o","type":"quantitative","scale":{"domain":[0.285,1.715],"nice":false,"zero":false},"axis":{"orient":"left","title":null,"labels":false}}}},
{"mark":{"type":"line","color":"#000","strokeWidth":2.8,"interpolate":"monotone","clip":true},"encoding":{"x":{"field":"x","type":"quantitative","scale":{"domain":[2.23,2.34],"nice":false,"zero":false},"axis":{"orient":"top","title":null,"labels":false}},"y":{"field":"m","type":"quantitative","scale":{"domain":[0.285,1.715],"nice":false,"zero":false},"axis":{"orient":"right","title":null,"labels":false}}}},
{"data":{"values":[{"name":"NGC1351"}]},"mark":{"type":"text","align":"left","baseline":"alphabetic","font":"DejaVu Sans","fontWeight":200,"fontSize":26,"color":"#000"},"encoding":{"x":{"datum":2.303,"type":"quantitative","scale":{"domain":[2.23,2.34],"nice":false,"zero":false},"axis":null},"y":{"datum":1.36,"type":"quantitative","scale":{"domain":[0.285,1.715],"nice":false,"zero":false},"axis":null},"text":{"field":"name"}}}]},
{"width":570,"height":171,"data":{"name":"n1373"},"resolve":{"axis":{"x":"independent","y":"independent"}},"layer":[
{"mark":{"type":"line","color":"#000","strokeWidth":1,"interpolate":"monotone","clip":true},"encoding":{"x":{"field":"x","type":"quantitative","scale":{"domain":[2.23,2.34],"nice":false,"zero":false},"axis":{"orient":"bottom","title":null,"labels":false}},"y":{"field":"o","type":"quantitative","scale":{"domain":[0.285,1.715],"nice":false,"zero":false},"axis":{"orient":"left","title":"Arbitrary Flux","titleX":-102,"titleY":171,"titleAngle":270,"titleAlign":"center","titleBaseline":"alphabetic"}}}},
{"mark":{"type":"line","color":"#000","strokeWidth":2.8,"interpolate":"monotone","clip":true},"encoding":{"x":{"field":"x","type":"quantitative","scale":{"domain":[2.23,2.34],"nice":false,"zero":false},"axis":{"orient":"top","title":null,"labels":false}},"y":{"field":"m","type":"quantitative","scale":{"domain":[0.285,1.715],"nice":false,"zero":false},"axis":{"orient":"right","title":null,"labels":false}}}},
{"data":{"values":[{"name":"NGC1373"}]},"mark":{"type":"text","align":"left","baseline":"alphabetic","font":"DejaVu Sans","fontWeight":200,"fontSize":26,"color":"#000"},"encoding":{"x":{"datum":2.303,"type":"quantitative","scale":{"domain":[2.23,2.34],"nice":false,"zero":false},"axis":null},"y":{"datum":1.36,"type":"quantitative","scale":{"domain":[0.285,1.715],"nice":false,"zero":false},"axis":null},"text":{"field":"name"}}}]},
{"width":570,"height":171,"data":{"name":"n1374"},"resolve":{"axis":{"x":"independent","y":"independent"}},"layer":[
{"mark":{"type":"line","color":"#000","strokeWidth":1,"interpolate":"monotone","clip":true},"encoding":{"x":{"field":"x","type":"quantitative","scale":{"domain":[2.23,2.34],"nice":false,"zero":false},"axis":{"orient":"bottom","title":null,"labels":false}},"y":{"field":"o","type":"quantitative","scale":{"domain":[0.285,1.715],"nice":false,"zero":false},"axis":{"orient":"left","title":null,"labels":false}}}},
{"mark":{"type":"line","color":"#000","strokeWidth":2.8,"interpolate":"monotone","clip":true},"encoding":{"x":{"field":"x","type":"quantitative","scale":{"domain":[2.23,2.34],"nice":false,"zero":false},"axis":{"orient":"top","title":null,"labels":false}},"y":{"field":"m","type":"quantitative","scale":{"domain":[0.285,1.715],"nice":false,"zero":false},"axis":{"orient":"right","title":null,"labels":false}}}},
{"data":{"values":[{"name":"NGC1374"}]},"mark":{"type":"text","align":"left","baseline":"alphabetic","font":"DejaVu Sans","fontWeight":200,"fontSize":26,"color":"#000"},"encoding":{"x":{"datum":2.303,"type":"quantitative","scale":{"domain":[2.23,2.34],"nice":false,"zero":false},"axis":null},"y":{"datum":1.36,"type":"quantitative","scale":{"domain":[0.285,1.715],"nice":false,"zero":false},"axis":null},"text":{"field":"name"}}}]},
{"width":570,"height":171,"data":{"name":"n1375"},"resolve":{"axis":{"x":"independent","y":"independent"}},"layer":[
{"mark":{"type":"line","color":"#000","strokeWidth":1,"interpolate":"monotone","clip":true},"encoding":{"x":{"field":"x","type":"quantitative","scale":{"domain":[2.23,2.34],"nice":false,"zero":false},"axis":{"orient":"bottom","title":null,"labels":false}},"y":{"field":"o","type":"quantitative","scale":{"domain":[0.285,1.715],"nice":false,"zero":false},"axis":{"orient":"left","title":null}}}},
{"mark":{"type":"line","color":"#000","strokeWidth":2.8,"interpolate":"monotone","clip":true},"encoding":{"x":{"field":"x","type":"quantitative","scale":{"domain":[2.23,2.34],"nice":false,"zero":false},"axis":{"orient":"top","title":null,"labels":false}},"y":{"field":"m","type":"quantitative","scale":{"domain":[0.285,1.715],"nice":false,"zero":false},"axis":{"orient":"right","title":null,"labels":false}}}},
{"data":{"values":[{"name":"NGC1375"}]},"mark":{"type":"text","align":"left","baseline":"alphabetic","font":"DejaVu Sans","fontWeight":200,"fontSize":26,"color":"#000"},"encoding":{"x":{"datum":2.303,"type":"quantitative","scale":{"domain":[2.23,2.34],"nice":false,"zero":false},"axis":null},"y":{"datum":1.36,"type":"quantitative","scale":{"domain":[0.285,1.715],"nice":false,"zero":false},"axis":null},"text":{"field":"name"}}}]},
{"width":570,"height":171,"data":{"name":"n1379"},"resolve":{"axis":{"x":"independent","y":"independent"}},"layer":[
{"mark":{"type":"line","color":"#000","strokeWidth":1,"interpolate":"monotone","clip":true},"encoding":{"x":{"field":"x","type":"quantitative","scale":{"domain":[2.23,2.34],"nice":false,"zero":false},"axis":{"orient":"bottom","title":null,"labels":false}},"y":{"field":"o","type":"quantitative","scale":{"domain":[0.285,1.715],"nice":false,"zero":false},"axis":{"orient":"left","title":null,"labels":false}}}},
{"mark":{"type":"line","color":"#000","strokeWidth":2.8,"interpolate":"monotone","clip":true},"encoding":{"x":{"field":"x","type":"quantitative","scale":{"domain":[2.23,2.34],"nice":false,"zero":false},"axis":{"orient":"top","title":null,"labels":false}},"y":{"field":"m","type":"quantitative","scale":{"domain":[0.285,1.715],"nice":false,"zero":false},"axis":{"orient":"right","title":null,"labels":false}}}},
{"data":{"values":[{"name":"NGC1379"}]},"mark":{"type":"text","align":"left","baseline":"alphabetic","font":"DejaVu Sans","fontWeight":200,"fontSize":26,"color":"#000"},"encoding":{"x":{"datum":2.303,"type":"quantitative","scale":{"domain":[2.23,2.34],"nice":false,"zero":false},"axis":null},"y":{"datum":1.36,"type":"quantitative","scale":{"domain":[0.285,1.715],"nice":false,"zero":false},"axis":null},"text":{"field":"name"}}}]},
{"width":570,"height":171,"data":{"name":"n1380"},"resolve":{"axis":{"x":"independent","y":"independent"}},"layer":[
{"mark":{"type":"line","color":"#000","strokeWidth":1,"interpolate":"monotone","clip":true},"encoding":{"x":{"field":"x","type":"quantitative","scale":{"domain":[2.23,2.34],"nice":false,"zero":false},"axis":{"orient":"bottom","title":null,"labels":false}},"y":{"field":"o","type":"quantitative","scale":{"domain":[0.285,1.715],"nice":false,"zero":false},"axis":{"orient":"left","title":null}}}},
{"mark":{"type":"line","color":"#000","strokeWidth":2.8,"interpolate":"monotone","clip":true},"encoding":{"x":{"field":"x","type":"quantitative","scale":{"domain":[2.23,2.34],"nice":false,"zero":false},"axis":{"orient":"top","title":null,"labels":false}},"y":{"field":"m","type":"quantitative","scale":{"domain":[0.285,1.715],"nice":false,"zero":false},"axis":{"orient":"right","title":null,"labels":false}}}},
{"data":{"values":[{"name":"NGC1380"}]},"mark":{"type":"text","align":"left","baseline":"alphabetic","font":"DejaVu Sans","fontWeight":200,"fontSize":26,"color":"#000"},"encoding":{"x":{"datum":2.303,"type":"quantitative","scale":{"domain":[2.23,2.34],"nice":false,"zero":false},"axis":null},"y":{"datum":1.36,"type":"quantitative","scale":{"domain":[0.285,1.715],"nice":false,"zero":false},"axis":null},"text":{"field":"name"}}}]},
{"width":570,"height":171,"data":{"name":"n1380a"},"resolve":{"axis":{"x":"independent","y":"independent"}},"layer":[
{"mark":{"type":"line","color":"#000","strokeWidth":1,"interpolate":"monotone","clip":true},"encoding":{"x":{"field":"x","type":"quantitative","scale":{"domain":[2.23,2.34],"nice":false,"zero":false},"axis":{"orient":"bottom","title":null,"labels":false}},"y":{"field":"o","type":"quantitative","scale":{"domain":[0.285,1.715],"nice":false,"zero":false},"axis":{"orient":"left","title":null,"labels":false}}}},
{"mark":{"type":"line","color":"#000","strokeWidth":2.8,"interpolate":"monotone","clip":true},"encoding":{"x":{"field":"x","type":"quantitative","scale":{"domain":[2.23,2.34],"nice":false,"zero":false},"axis":{"orient":"top","title":null,"labels":false}},"y":{"field":"m","type":"quantitative","scale":{"domain":[0.285,1.715],"nice":false,"zero":false},"axis":{"orient":"right","title":null,"labels":false}}}},
{"data":{"values":[{"name":"NGC1380A"}]},"mark":{"type":"text","align":"left","baseline":"alphabetic","font":"DejaVu Sans","fontWeight":200,"fontSize":26,"color":"#000"},"encoding":{"x":{"datum":2.303,"type":"quantitative","scale":{"domain":[2.23,2.34],"nice":false,"zero":false},"axis":null},"y":{"datum":1.36,"type":"quantitative","scale":{"domain":[0.285,1.715],"nice":false,"zero":false},"axis":null},"text":{"field":"name"}}}]},
{"width":570,"height":171,"data":{"name":"n1381"},"resolve":{"axis":{"x":"independent","y":"independent"}},"layer":[
{"mark":{"type":"line","color":"#000","strokeWidth":1,"interpolate":"monotone","clip":true},"encoding":{"x":{"field":"x","type":"quantitative","scale":{"domain":[2.23,2.34],"nice":false,"zero":false},"axis":{"orient":"bottom","title":"Wavelength (μm)","titleX":570,"titleY":78,"titleAlign":"center","titleBaseline":"alphabetic","titleAngle":0}},"y":{"field":"o","type":"quantitative","scale":{"domain":[0.285,1.715],"nice":false,"zero":false},"axis":{"orient":"left","title":null}}}},
{"mark":{"type":"line","color":"#000","strokeWidth":2.8,"interpolate":"monotone","clip":true},"encoding":{"x":{"field":"x","type":"quantitative","scale":{"domain":[2.23,2.34],"nice":false,"zero":false},"axis":{"orient":"top","title":null,"labels":false}},"y":{"field":"m","type":"quantitative","scale":{"domain":[0.285,1.715],"nice":false,"zero":false},"axis":{"orient":"right","title":null,"labels":false}}}},
{"data":{"values":[{"name":"NGC1381"}]},"mark":{"type":"text","align":"left","baseline":"alphabetic","font":"DejaVu Sans","fontWeight":200,"fontSize":26,"color":"#000"},"encoding":{"x":{"datum":2.303,"type":"quantitative","scale":{"domain":[2.23,2.34],"nice":false,"zero":false},"axis":null},"y":{"datum":1.36,"type":"quantitative","scale":{"domain":[0.285,1.715],"nice":false,"zero":false},"axis":null},"text":{"field":"name"}}}]},
{"width":570,"height":171,"data":{"name":"n1399"},"resolve":{"axis":{"x":"independent","y":"independent"}},"layer":[
{"mark":{"type":"line","color":"#000","strokeWidth":1,"interpolate":"monotone","clip":true},"encoding":{"x":{"field":"x","type":"quantitative","scale":{"domain":[2.23,2.34],"nice":false,"zero":false},"axis":{"orient":"bottom","title":null}},"y":{"field":"o","type":"quantitative","scale":{"domain":[0.285,1.715],"nice":false,"zero":false},"axis":{"orient":"left","title":null,"labels":false}}}},
{"mark":{"type":"line","color":"#000","strokeWidth":2.8,"interpolate":"monotone","clip":true},"encoding":{"x":{"field":"x","type":"quantitative","scale":{"domain":[2.23,2.34],"nice":false,"zero":false},"axis":{"orient":"top","title":null,"labels":false}},"y":{"field":"m","type":"quantitative","scale":{"domain":[0.285,1.715],"nice":false,"zero":false},"axis":{"orient":"right","title":null,"labels":false}}}},
{"data":{"values":[{"name":"NGC1399"}]},"mark":{"type":"text","align":"left","baseline":"alphabetic","font":"DejaVu Sans","fontWeight":200,"fontSize":26,"color":"#000"},"encoding":{"x":{"datum":2.303,"type":"quantitative","scale":{"domain":[2.23,2.34],"nice":false,"zero":false},"axis":null},"y":{"datum":1.36,"type":"quantitative","scale":{"domain":[0.285,1.715],"nice":false,"zero":false},"axis":null},"text":{"field":"name"}}}]}
]
}
